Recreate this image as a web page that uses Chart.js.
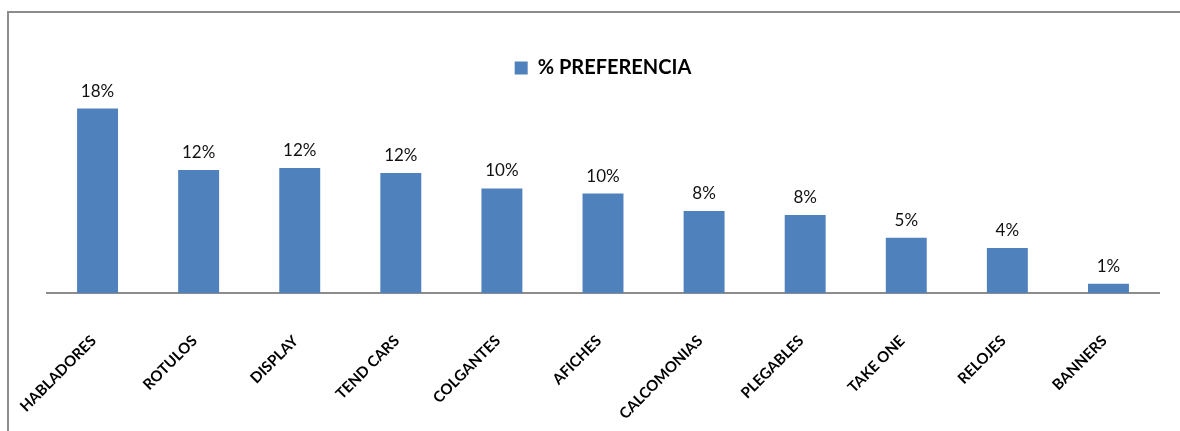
<!DOCTYPE html>
<html lang="es">
<head>
<meta charset="utf-8">
<title>% Preferencia</title>
<script src="https://cdn.jsdelivr.net/npm/chart.js@4.4.1/dist/chart.umd.min.js"></script>
<style>
    html, body { margin: 0; padding: 0; background: #fff; }
    .wrap { position: relative; width: 1180px; height: 431px; overflow: hidden; }
    .frame {
        position: absolute; left: 7px; top: 11px; width: 1200px; height: 460px;
        border-left: 2px solid #8c8c8c; border-top: 2px solid #8c8c8c;
    }
    #prefChart { position: absolute; left: 0; top: 0; }
</style>
</head>
<body>
<div class="wrap">
    <div class="frame"></div>
    <canvas id="prefChart" width="1180" height="431"></canvas>
</div>
<script>
// Datos
const categorias = ['HABLADORES', 'ROTULOS', 'DISPLAY', 'TEND CARS', 'COLGANTES', 'AFICHES',
    'CALCOMONIAS', 'PLEGABLES', 'TAKE ONE', 'RELOJES', 'BANNERS'];
const preferencia = [18.0, 12.0, 12.2, 11.7, 10.2, 9.7, 8.0, 7.6, 5.4, 4.4, 0.9];
const serieNombre = '% PREFERENCIA';
const colorBarra = '#4F81BD';

// Etiquetas de valor encima de cada barra
const etiquetasValor = {
    id: 'etiquetasValor',
    afterDatasetsDraw(chart) {
        const ctx = chart.ctx;
        const meta = chart.getDatasetMeta(0);
        const datos = chart.data.datasets[0].data;
        ctx.save();
        ctx.font = '17px Lato';
        ctx.fillStyle = '#111';
        ctx.textAlign = 'center';
        ctx.textBaseline = 'alphabetic';
        meta.data.forEach((barra, i) => {
            ctx.fillText(Math.round(datos[i]) + '%', barra.x, barra.y - 12);
        });
        ctx.restore();
    }
};

document.addEventListener('DOMContentLoaded', () => {
    const ctx = document.getElementById('prefChart').getContext('2d');
    new Chart(ctx, {
        type: 'bar',
        data: {
            labels: categorias,
            datasets: [{
                label: serieNombre,
                data: preferencia,
                backgroundColor: colorBarra,
                categoryPercentage: 1,
                barPercentage: 0.405
            }]
        },
        options: {
            responsive: false,
            animation: false,
            layout: { padding: { left: 47, right: 21, top: 48, bottom: 0 } },
            plugins: {
                legend: {
                    display: true,
                    position: 'top',
                    labels: {
                        boxWidth: 13,
                        boxHeight: 13,
                        color: '#000',
                        font: { family: 'Lato', weight: 'bold', size: 20 }
                    }
                },
                tooltip: { enabled: false }
            },
            scales: {
                x: {
                    grid: { display: false, drawTicks: false },
                    border: { display: true, color: '#8c8c8c', width: 2 },
                    ticks: {
                        color: '#000',
                        font: { family: 'Lato', weight: 'bold', size: 15 },
                        minRotation: 45,
                        maxRotation: 45,
                        autoSkip: false,
                        padding: 39,
                        labelOffset: -4
                    },
                    // altura fija del eje y sin margen extra a los lados
                    afterFit(escala) {
                        escala.height = 138;
                        escala.paddingLeft = 0;
                        escala.paddingRight = 0;
                    }
                },
                y: {
                    display: false,
                    min: 0,
                    max: 20
                }
            }
        },
        plugins: [etiquetasValor]
    });
});
</script>
</body>
</html>
